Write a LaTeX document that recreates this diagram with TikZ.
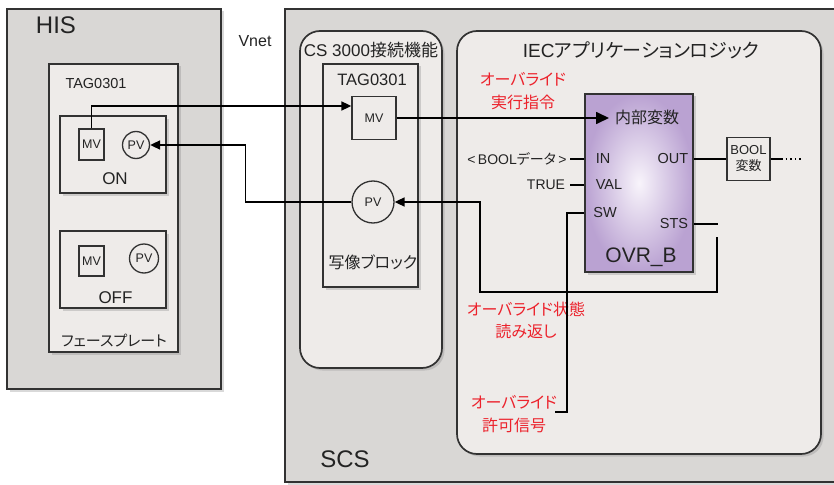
\documentclass[tikz,border=0pt]{standalone}
\usepackage{fontspec}
\setmainfont{Liberation Sans}
\newfontfamily\jp[RawFeature=+palt]{Noto Sans CJK JP}
\usetikzlibrary{arrows.meta,shadows,calc}

\definecolor{outergray}{RGB}{217,215,213}
\definecolor{innergray}{RGB}{238,235,233}
\definecolor{edgegray}{RGB}{50,50,50}
\definecolor{textgray}{RGB}{35,35,35}
\definecolor{ovrpurple}{RGB}{186,162,210}
\definecolor{ovrlight}{RGB}{248,244,251}
\definecolor{notered}{RGB}{236,34,44}

\newcommand{\fsz}[2]{\fontsize{#1}{#2}\selectfont}

\tikzset{every picture/.style={line width=1.6pt}}
\tikzset{
  boxshadow/.style={drop shadow={opacity=0.3,shadow xshift=2.5pt,shadow yshift=-2.5pt}},
  outerbox/.style={draw=edgegray,fill=outergray,line width=1.7pt,boxshadow},
  innerbox/.style={draw=edgegray,fill=innergray,line width=1.7pt,boxshadow},
  ovrbox/.style={draw=edgegray,line width=1.7pt,inner color=ovrlight,outer color=ovrpurple,boxshadow},
  lbl/.style={inner sep=0pt,text=textgray},
  bigtitle/.style={lbl,font=\fsz{24}{28}},
  mvbox/.style={draw=edgegray,line width=1.3pt,inner sep=0pt,text=textgray,font=\fsz{12.5}{14}},
  pvcirc/.style={mvbox,circle},
  portlbl/.style={lbl,font=\fsz{14.5}{17}},
  redlbl/.style={inner sep=0pt,text=notered,align=center,font=\jp\fsz{16}{22.5}},
  link/.style={draw=black,line width=1.7pt},
  linkarr/.style={link,-{Triangle[length=10pt,width=9pt]}},
  bigtip/.style={link,-{Triangle[length=13pt,width=12pt]}}
}

\begin{document}
\begin{tikzpicture}[x=1pt,y=1pt,yscale=-1,xscale=1]
\useasboundingbox (0,0) rectangle (834,484);

%Shape: Rectangle [HIS]
\draw [outerbox] (7,9) rectangle (221,389);
%Shape: Rectangle [SCS]
\draw [outerbox] (285,9) rectangle (848,482);
%Shape: Rectangle [faceplate]
\draw [innerbox] (49,64) rectangle (178,352);
%Shape: Rectangle [ON]
\draw [innerbox] (60,116) rectangle (166,193);
%Shape: Rectangle [OFF]
\draw [innerbox] (60,231) rectangle (166,308);
%Shape: Rounded Rectangle [CS 3000]
\draw [innerbox,rounded corners=20pt] (300,31) rectangle (442,368);
%Shape: Rectangle [image block]
\draw [innerbox] (323,64) rectangle (418,287);
%Shape: Rounded Rectangle [IEC]
\draw [innerbox,rounded corners=20pt] (457,31) rectangle (821,454);

% HIS side
\node [bigtitle] (his) at (56,25) {HIS};
\node [lbl,font=\fsz{16}{18}] (vnet) at (255,41) {Vnet};
\node [lbl,font=\fsz{14.5}{17}] (tagh) at (96,84) {TAG0301};
\node [mvbox,minimum width=25pt,minimum height=31pt] (mvon) at (91.5,144.5) {MV};
\node [pvcirc,minimum size=27pt] (pvon) at (136,145) {PV};
\node [lbl,font=\fsz{17}{20}] (on) at (115,179) {ON};
\node [mvbox,minimum width=25pt,minimum height=30pt] (mvoff) at (91.5,261) {MV};
\node [pvcirc,minimum size=29pt] (pvoff) at (144,258.5) {PV};
\node [lbl,font=\fsz{17}{20}] (off) at (115.5,298) {OFF};
\node [lbl,font=\jp\fsz{15}{18}] (fplate) at (114,341) {フェースプレート};

% CS 3000 side
\node [lbl,font=\fsz{17}{20}] (cstitle) at (371,50) {CS 3000{\jp 接続機能}};
\node [lbl,font=\fsz{16.5}{19}] (tagc) at (372,80) {TAG0301};
\node [mvbox,minimum width=44pt,minimum height=43pt] (mvc) at (374,118) {MV};
\node [pvcirc,minimum size=42pt] (pvc) at (373,202) {PV};
\node [lbl,font=\jp\fsz{16}{19}] (imgblk) at (373,262) {写像ブロック};

% IEC logic
\node [lbl,font=\fsz{19}{22}] (iec) at (641,50) {IEC{\jp アプリケーションロジック}};
\node [redlbl] (ovrcmd) at (523,91) {オーバライド\\実行指令};
\node [redlbl] (ovrstate) at (526,320.5) {オーバライド状態\\読み返し};
\node [redlbl] (ovrperm) at (514,414) {オーバライド\\許可信号};

\node [ovrbox,minimum width=108pt,minimum height=178pt] (ovr) at (639,183) {};
\node [lbl,font=\jp\fsz{16}{19}] (naibu) at (647,117) {内部変数};
\node [portlbl] (pin) at (603,159) {IN};
\node [portlbl] (pval) at (609,185) {VAL};
\node [portlbl] (psw) at (605,213) {SW};
\node [portlbl] (pout) at (673,159) {OUT};
\node [portlbl] (psts) at (674,224) {STS};
\node [lbl,font=\fsz{21}{24}] (ovrname) at (641,257) {OVR\_B};
\node [portlbl,font=\fsz{14}{17}] (booldata) at (517,159) {<\,BOOL{\jp データ}\,>};
\node [portlbl,font=\fsz{14}{17}] (true) at (546,185) {TRUE};
\node [mvbox,minimum width=43pt,minimum height=43pt,align=center,font=\fsz{13}{16}] (boolvar) at (748.5,159) {BOOL\\{\jp 変数}};

\node [bigtitle] (scs) at (345,459) {SCS};

\coordinate (tipin) at (609,118);
\coordinate (stsret) at (717,237);

%Straight Lines
\draw [linkarr] (mvon.north) |- ($(mvc.west)+(0,-12)$);
\draw [linkarr] (pvc.west) -- ++(-106,0) |- (pvon.east);
\draw [bigtip] (mvc.east) -- (mvc.east -| tipin);
\draw [link] (ovr.west |- pin) -- ++(-14,0);
\draw [link] (ovr.west |- pval) -- ++(-14,0);
\draw [link] (ovr.west |- psw) -- ++(-17,0) -- ++(0,199) -- ++(-12,0);
\draw [link] (ovr.east |- pout) -- (boolvar.west);
\draw [link] (boolvar.east) -- ++(12,0);
\draw [link,dash pattern=on 1.6pt off 3pt] ($(boolvar.east)+(15,0)$) -- ++(16,0);
\draw [link] (ovr.east |- psts) -- ++(24,0);
\draw [linkarr] (stsret) |- (480,292) |- (pvc.east);

\end{tikzpicture}
\end{document}
